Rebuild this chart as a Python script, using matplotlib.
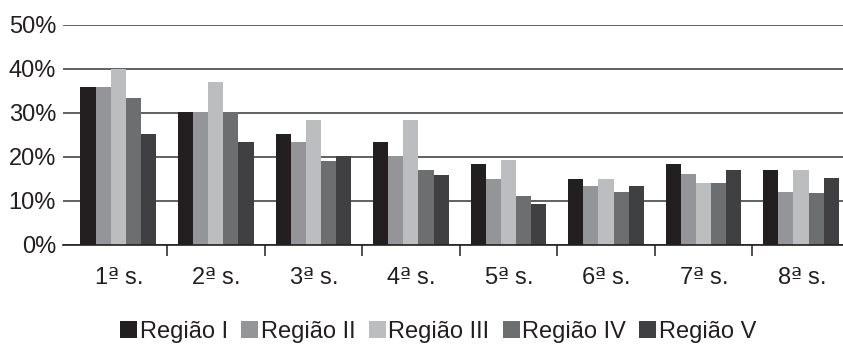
import numpy as np
import matplotlib
matplotlib.use("Agg")
import matplotlib.pyplot as plt

plt.rcParams['font.family'] = ['Liberation Sans', 'DejaVu Sans']
plt.rcParams['mathtext.fontset'] = 'dejavusans'

# share of each region per semester (%)
semestres = ["1ª s.", "2ª s.", "3ª s.", "4ª s.", "5ª s.", "6ª s.", "7ª s.", "8ª s."]
regiao_1 = [36.0, 30.2, 25.2, 23.4, 18.4, 15.0, 18.4, 17.0]
regiao_2 = [36.0, 30.2, 23.4, 20.2, 15.0, 13.4, 16.1, 12.0]
regiao_3 = [40.0, 37.0, 28.4, 28.4, 19.3, 15.0, 14.1, 17.0]
regiao_4 = [33.4, 30.2, 19.1, 17.0, 11.1, 12.0, 14.1, 11.8]
regiao_5 = [25.2, 23.4, 20.2, 15.9, 9.3, 13.4, 17.0, 15.2]

nomes = ["Região I", "Região II", "Região III", "Região IV", "Região V"]
series = [regiao_1, regiao_2, regiao_3, regiao_4, regiao_5]
cores = ["#231f20", "#949598", "#bcbdbf", "#6d6e70", "#404042"]

fig = plt.figure(figsize=(8.43, 3.51), dpi=100)
ax = fig.add_axes([0.0747, 0.302, 0.9253, 0.627])

x = np.arange(len(semestres))
w = 0.155
for i, (vals, nome, cor) in enumerate(zip(series, nomes, cores)):
    ax.bar(x + (i - 2) * w, vals, width=w, color=cor, label=nome, zorder=3)

ax.set_ylim(0, 50)
ax.set_xlim(-0.567, 7.43)
ax.set_yticks(range(0, 51, 10))
ax.set_yticklabels([f"{v}%" for v in range(0, 51, 10)])
ax.yaxis.grid(True, color="#555555", linewidth=1.3, zorder=0)
ax.set_axisbelow(True)

for s in ["top", "right", "left"]:
    ax.spines[s].set_visible(False)
ax.spines["bottom"].set_color("#231f20")
ax.spines["bottom"].set_linewidth(1.2)
ax.spines["bottom"].set_zorder(4)

# the ordinal "ª" goes through mathtext so it gets DejaVu's underlined glyph
rotulos = [s.replace("ª", r"$\mathrm{ª}$") for s in semestres]
ax.set_xticks(x)
ax.set_xticklabels(rotulos)
ax.set_xticks(np.arange(0.5, 7.5, 1), minor=True)
ax.tick_params(axis="x", which="major", length=0, pad=16, labelsize=17, labelcolor="#231f20")
ax.tick_params(axis="x", which="minor", length=8, width=1.1, color="#231f20")
ax.tick_params(axis="y", length=0, pad=5, labelsize=17, labelcolor="#231f20")

fig.legend(loc="center", bbox_to_anchor=(0.52, 0.055), ncol=5, frameon=False,
           fontsize=17, handlelength=0.72, handleheight=0.72, handletextpad=0.12,
           columnspacing=0.55, labelcolor="#231f20", borderpad=0)

fig.savefig("out.png", dpi=100)
